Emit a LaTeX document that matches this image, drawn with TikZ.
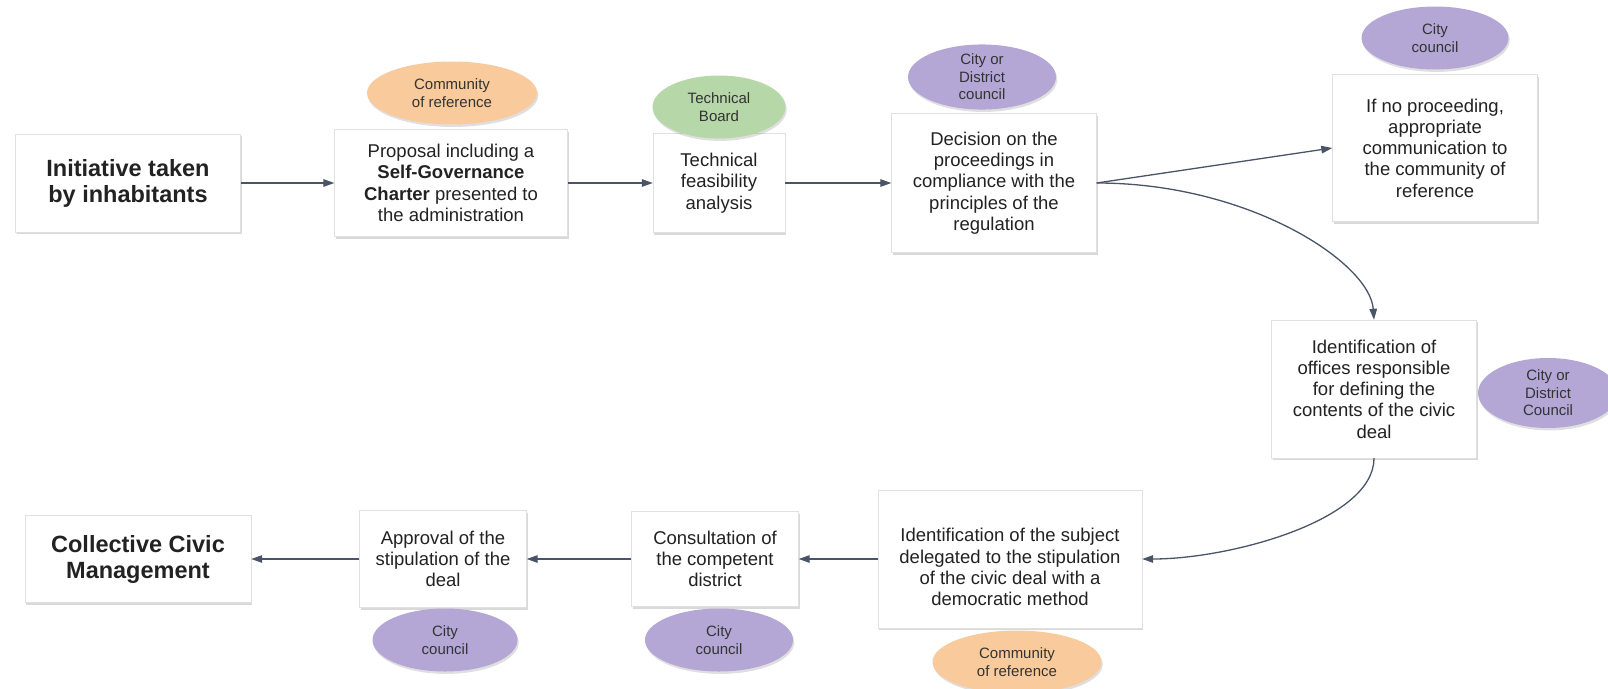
\documentclass[tikz,border=0pt]{standalone}
\usepackage{fontspec}
\setmainfont{Liberation Sans}
\usetikzlibrary{shapes.geometric,arrows.meta,shadows}
\definecolor{orangeref}{HTML}{F9CB9C}
\definecolor{greenref}{HTML}{B6D7A8}
\definecolor{purpleref}{HTML}{B4A7D6}
\definecolor{linkc}{HTML}{4A5468}
\definecolor{textc}{HTML}{222222}
\begin{document}
\begin{tikzpicture}[x=1pt,y=-1pt]
  \tikzstyle{box}=[rectangle,draw=black!12,fill=white,text=textc,align=center,inner sep=0pt,
    font=\fontsize{18.5}{21.3}\selectfont,
    drop shadow={shadow xshift=1.2pt,shadow yshift=-2.4pt,opacity=.3}]
  \tikzstyle{bigbox}=[box,font=\fontsize{23.5}{26}\selectfont\bfseries]
  \tikzstyle{actor}=[ellipse,draw=none,inner sep=0pt,text=black!80,align=center,
    font=\fontsize{15}{17.5}\selectfont,
    drop shadow={shadow xshift=1.2pt,shadow yshift=-2.4pt,opacity=.25}]
  \tikzstyle{link}=[draw=linkc,line width=1.3pt,-{Triangle[length=11pt,width=7.5pt]}]
  \useasboundingbox (0,0) rectangle (1608,688);

  % upper row
  \node[bigbox,minimum width=225pt,minimum height=98pt] (initiative) at (128,183) {Initiative taken\\by inhabitants};
  \node[box,minimum width=233pt,minimum height=107pt] (proposal) at (451,183)
    {Proposal including a\\\textbf{Self-Governance}\\\textbf{Charter} presented to\\the administration};
  \node[box,minimum width=132pt,minimum height=99pt] (feasib) at (719,183) {Technical\\feasibility\\analysis};
  \node[box,minimum width=205pt,minimum height=139pt] (decision) at (994,183)
    {Decision on the\\proceedings in\\compliance with the\\principles of the\\regulation};
  \node[box,minimum width=205pt,minimum height=147pt] (noproc) at (1435,148)
    {If no proceeding,\\appropriate\\communication to\\the community of\\reference};
  \node[box,minimum width=205pt,minimum height=138pt] (offices) at (1374,389)
    {Identification of\\offices responsible\\for defining the\\contents of the civic\\deal};

  % lower row
  \node[box,minimum width=264pt,minimum height=138pt] (subject) at (1010,559)
    {\rule{0pt}{29.5pt}Identification of the subject\\delegated to the stipulation\\of the civic deal with a\\democratic method};
  \node[box,minimum width=167pt,minimum height=95pt] (consult) at (715,559) {Consultation of\\the competent\\district};
  \node[box,minimum width=167pt,minimum height=97pt] (approval) at (443,559) {Approval of the\\stipulation of the\\deal};
  \node[bigbox,minimum width=226pt,minimum height=87pt] (civic) at (138,559) {Collective Civic\\Management};

  % who is in charge
  \node[actor,fill=orangeref,minimum width=170pt,minimum height=63pt] (comref1) at (452,93) {Community\\of reference};
  \node[actor,fill=greenref,minimum width=133pt,minimum height=63pt] (techboard) at (719,107) {Technical\\Board};
  \node[actor,fill=purpleref,minimum width=148pt,minimum height=64pt] (council1) at (982,77) {City or\\District\\council};
  \node[actor,fill=purpleref,minimum width=147pt,minimum height=63pt] (council2) at (1435,38) {City\\council};
  \node[actor,fill=purpleref,minimum width=140pt,minimum height=70pt] (council3) at (1548,393) {City or\\District\\Council};
  \node[actor,fill=orangeref,minimum width=169pt,minimum height=63pt] (comref2) at (1017,662) {Community\\of reference};
  \node[actor,fill=purpleref,minimum width=148pt,minimum height=63pt] (council4) at (719,640) {City\\council};
  \node[actor,fill=purpleref,minimum width=145pt,minimum height=63pt] (council5) at (445,640) {City\\council};

  \draw[link] (initiative) -- (proposal);
  \draw[link] (proposal) -- (feasib);
  \draw[link] (feasib) -- (decision);
  \draw[link] (decision.east) -- (noproc.west);
  \draw[link] (decision.east) .. controls +(153,0) and +(-4,-57) .. (offices.north);
  \draw[link] (offices.south) .. controls +(0,62) and +(88,0) .. (subject.east);
  \draw[link] (subject) -- (consult);
  \draw[link] (consult) -- (approval);
  \draw[link] (approval) -- (civic);
\end{tikzpicture}
\end{document}
